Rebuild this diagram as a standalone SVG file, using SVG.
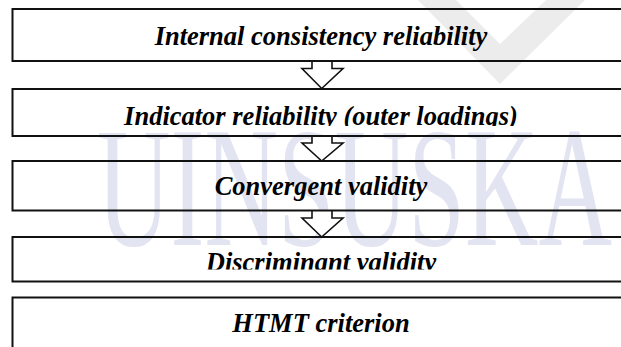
<svg xmlns="http://www.w3.org/2000/svg" width="621" height="347" viewBox="0 0 621 347">
  <style>
    .box { fill: none; stroke: #111; stroke-width: 2; }
    .lbl { font-family: "Liberation Serif", "Times New Roman", serif; font-weight: bold; font-style: italic; font-size: 26.5px; fill: #000; text-anchor: middle; }
    .arrow { fill: #fff; stroke: #111; stroke-width: 1.6; stroke-linejoin: miter; }
    .wm { font-family: "Liberation Serif", "Times New Roman", serif; font-size: 172px; fill: #e3e4f1; }
  </style>
  <defs>
    <clipPath id="c2"><rect x="0" y="89" width="621" height="37"/></clipPath>
    <clipPath id="c4"><rect x="0" y="237" width="621" height="32.5"/></clipPath>
  </defs>
  <rect width="621" height="347" fill="#fff"/>
  <g id="watermark">
    <path d="M418,0 L585,0 L500,84 Z M456,0 L500,44 L546,0 Z" fill="#ececec" fill-rule="evenodd"/>
    <text class="wm" x="97" y="245" textLength="515" lengthAdjust="spacingAndGlyphs">UINSUSKA</text>
  </g>
  <g id="connectors">
    <path class="arrow" d="M312,61 L312,68.5 L302,68.5 L321.7,88.5 L343,68.5 L332,68.5 L332,61"/>
    <path class="arrow" d="M312,136 L312,143 L302,143 L321.7,161 L343,143 L332,143 L332,136"/>
    <path class="arrow" d="M312,210.5 L312,218 L302,218 L321.7,237 L343,218 L332,218 L332,210.5"/>
  </g>
  <g id="node1">
    <rect class="box" x="12.5" y="9" width="620" height="52"/>
    <text class="lbl" x="321" y="44.5">Internal consistency reliability</text>
  </g>
  <g id="node2">
    <rect class="box" x="12.5" y="89" width="620" height="47"/>
    <text class="lbl" x="321" y="124.5" clip-path="url(#c2)">Indicator reliability (outer loadings)</text>
  </g>
  <g id="node3">
    <rect class="box" x="12.5" y="161" width="620" height="49.5"/>
    <text class="lbl" x="321" y="194.5">Convergent validity</text>
  </g>
  <g id="node4">
    <rect class="box" x="12.5" y="237" width="620" height="44.5"/>
    <text class="lbl" x="321" y="271" clip-path="url(#c4)">Discriminant validity</text>
  </g>
  <g id="node5">
    <rect class="box" x="12.5" y="297.5" width="620" height="60"/>
    <text class="lbl" x="321" y="331.5">HTMT criterion</text>
  </g>
</svg>
